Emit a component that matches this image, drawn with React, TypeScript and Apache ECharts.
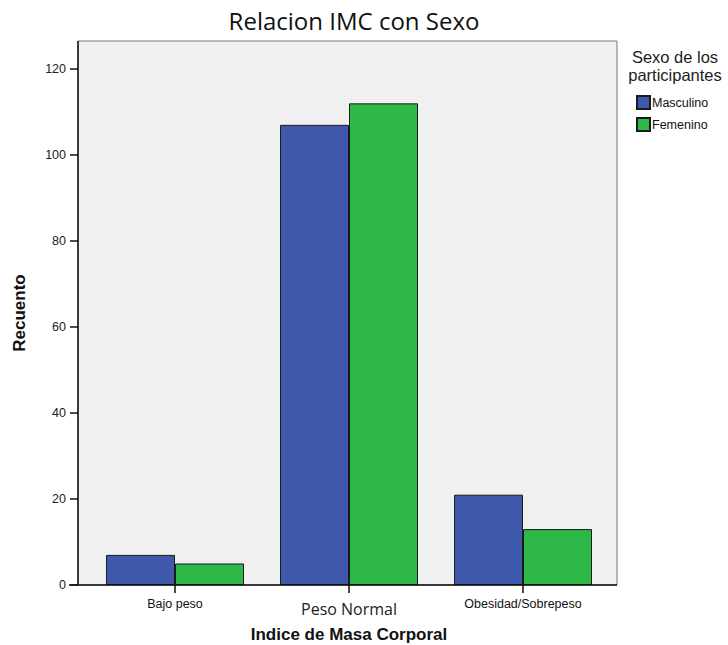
import React, { useEffect, useRef } from "react";
import * as echarts from "echarts";

const categories = ["Bajo peso", "Peso Normal", "Obesidad/Sobrepeso"];
const masculino = [7, 107, 21];
const femenino = [5, 112, 13];
const yTicks = [0, 20, 40, 60, 80, 100, 120];

export default function App() {
  const ref = useRef<HTMLDivElement>(null);
  useEffect(() => {
    const chart = echarts.init(ref.current!, null, { renderer: "svg" });
    const font = "'Liberation Sans', Arial, sans-serif";
    chart.setOption({
      animation: false,
      backgroundColor: "#ffffff",
      title: {
        text: "Relacion IMC con Sexo",
        left: 349,
        textAlign: "center",
        top: 3,
        textStyle: { fontFamily: "'Open Sans', sans-serif", fontSize: 24, fontWeight: "normal", color: "#111" },
      },
      legend: {
        orient: "vertical",
        left: 636,
        top: 95,
        padding: 0,
        itemWidth: 13,
        itemHeight: 13,
        itemGap: 7,
        icon: "rect",
        textStyle: { fontFamily: font, fontSize: 12.5, color: "#111", padding: [0, 0, 0, -3] },
        data: ["Masculino", "Femenino"],
      },
      grid: { left: 88, right: 118, top: 41, bottom: 60, containLabel: false, outerBoundsMode: "none" },
      xAxis: {
        type: "category",
        data: categories,
        name: "Indice de Masa Corporal",
        nameLocation: "middle",
        nameGap: 41,
        nameTextStyle: { fontFamily: font, fontSize: 17, fontWeight: "bold", color: "#111" },
        axisLine: { show: false },
        axisTick: { show: true, alignWithLabel: true, length: 8, lineStyle: { color: "#111", width: 1.5 } },
        axisLabel: {
          interval: 0,
          margin: 10,
          formatter: (v: string) => (v === "Peso Normal" ? "{b|" + v + "}" : "{a|" + v + "}"),
          rich: {
            a: { fontFamily: font, fontSize: 12.5, color: "#111", padding: [2, 0, 0, 0] },
            b: { fontFamily: "'Open Sans', sans-serif", fontSize: 16, color: "#222", padding: [6, 0, 0, 0] },
          },
        },
      },
      yAxis: {
        type: "value",
        min: 0,
        max: 126.5,
        interval: 20,
        offset: 10,
        name: "Recuento",
        nameLocation: "middle",
        nameGap: 50,
        nameTextStyle: { fontFamily: font, fontSize: 17, fontWeight: "bold", color: "#111" },
        splitLine: { show: false },
        axisLine: { show: false },
        axisTick: { show: true, length: 8, customValues: yTicks, lineStyle: { color: "#111", width: 1.5 } },
        axisLabel: { customValues: yTicks, fontFamily: font, fontSize: 12.5, color: "#222", margin: 12 },
      },
      series: [
        {
          name: "Masculino",
          type: "bar",
          data: masculino,
          barWidth: 69,
          barGap: "0%",
          itemStyle: { color: "#3e58ac", borderColor: "#1a1a1a", borderWidth: 1 },
        },
        {
          name: "Femenino",
          type: "bar",
          data: femenino,
          barWidth: 69,
          barGap: "0%",
          itemStyle: { color: "#2eb848", borderColor: "#1a1a1a", borderWidth: 1 },
        },
      ],
    });
    const y0 = chart.convertToPixel({ yAxisIndex: 0 }, 0) as number;
    const yTop = chart.convertToPixel({ yAxisIndex: 0 }, 126.5) as number;
    const xL = 78;
    const xR = 617;
    chart.setOption({
      graphic: [
        {
          type: "rect",
          z: -10,
          shape: { x: xL, y: yTop, width: xR - xL, height: y0 - yTop },
          style: { fill: "#f0f0f0", stroke: "#777", lineWidth: 1 },
        },
        {
          type: "line",
          z: 10,
          shape: { x1: 69, y1: y0, x2: xR, y2: y0 },
          style: { stroke: "#111", lineWidth: 1.5 },
        },
        {
          type: "line",
          z: 10,
          shape: { x1: xL, y1: yTop, x2: xL, y2: y0 },
          style: { stroke: "#111", lineWidth: 1.5 },
        },
        {
          type: "text",
          x: 675,
          y: 48,
          style: {
            text: "Sexo de los\nparticipantes",
            fontFamily: font,
            fontSize: 16.5,
            lineHeight: 18,
            fill: "#222",
            align: "center",
          },
        },
      ],
    });
    return () => chart.dispose();
  }, []);
  return <div ref={ref} style={{ width: 728, height: 645, position: "absolute", left: 0, top: 0 }} />;
}
